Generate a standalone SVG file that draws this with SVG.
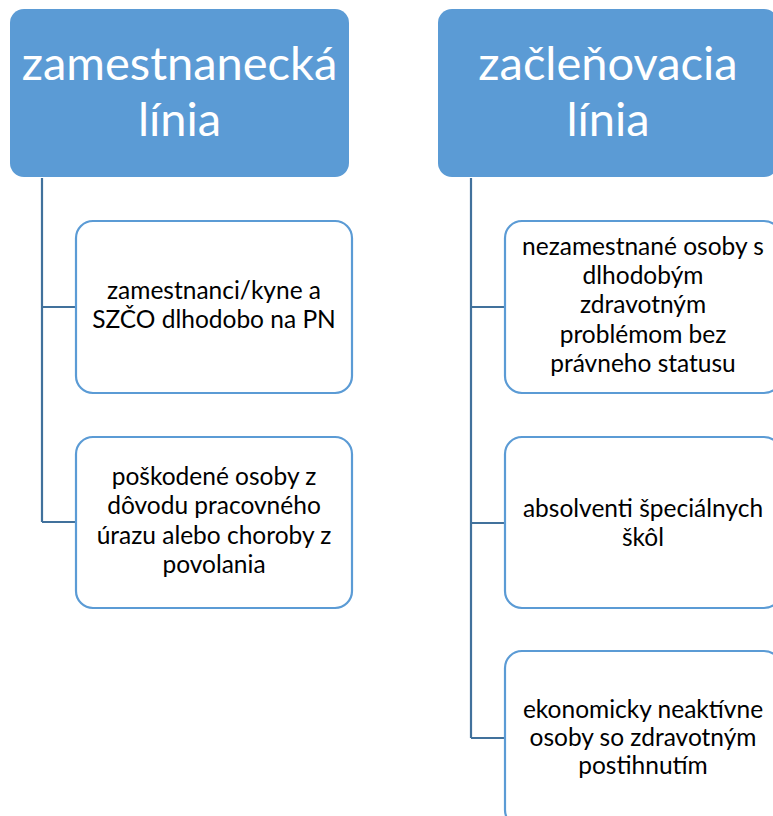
<svg xmlns="http://www.w3.org/2000/svg" width="773" height="816" viewBox="0 0 773 816">
<style>
.hdr{fill:#5B9BD5;}
.hdr-t{fill:#FFFFFF;font-family:Lato,"Open Sans",sans-serif;font-size:47px;text-anchor:middle;}
.box{fill:#FFFFFF;stroke:#5B9BD5;stroke-width:2.2;}
.box-t{fill:#000000;font-family:Lato,"Open Sans",sans-serif;font-size:24.5px;text-anchor:middle;}
.conn{fill:none;stroke:#41719C;stroke-width:2.2;}
</style>
<rect width="773" height="816" fill="#FFFFFF"/>
<g id="connectors">
<path class="conn" d="M42,178 V522 M42,307 H76 M42,522 H76"/>
<path class="conn" d="M471,178 V738 M471,307 H505 M471,523 H505 M471,738 H505"/>
</g>
<g id="hdr-zamestnanecka">
<rect class="hdr" x="10" y="9" width="339" height="168" rx="14"/>
<text class="hdr-t" x="179.5" y="80">zamestnanecká</text>
<text class="hdr-t" x="179.5" y="136">línia</text>
</g>
<g id="hdr-zaclenovacia">
<rect class="hdr" x="438" y="9" width="340" height="168" rx="14"/>
<text class="hdr-t" x="608" y="80">začleňovacia</text>
<text class="hdr-t" x="608" y="136">línia</text>
</g>
<g id="node-zamestnanci">
<rect class="box" x="76" y="221" width="276" height="172" rx="17"/>
<text class="box-t" x="214" y="299">zamestnanci/kyne a</text>
<text class="box-t" x="214" y="328">SZČO dlhodobo na PN</text>
</g>
<g id="node-poskodene">
<rect class="box" x="76" y="437" width="276" height="171" rx="17"/>
<text class="box-t" x="214" y="485">poškodené osoby z</text>
<text class="box-t" x="214" y="514">dôvodu pracovného</text>
<text class="box-t" x="214" y="544">úrazu alebo choroby z</text>
<text class="box-t" x="214" y="573">povolania</text>
</g>
<g id="node-nezamestnane">
<rect class="box" x="505" y="221" width="276" height="172" rx="17"/>
<text class="box-t" x="643" y="255">nezamestnané osoby s</text>
<text class="box-t" x="643" y="284">dlhodobým</text>
<text class="box-t" x="643" y="313">zdravotným</text>
<text class="box-t" x="643" y="343">problémom bez</text>
<text class="box-t" x="643" y="372">právneho statusu</text>
</g>
<g id="node-absolventi">
<rect class="box" x="505" y="437" width="276" height="171" rx="17"/>
<text class="box-t" x="643" y="517">absolventi špeciálnych</text>
<text class="box-t" x="643" y="546">škôl</text>
</g>
<g id="node-ekonomicky">
<rect class="box" x="505" y="651" width="276" height="176" rx="17"/>
<text class="box-t" x="643" y="718">ekonomicky neaktívne</text>
<text class="box-t" x="643" y="746">osoby so zdravotným</text>
<text class="box-t" x="643" y="774">postihnutím</text>
</g>
</svg>
